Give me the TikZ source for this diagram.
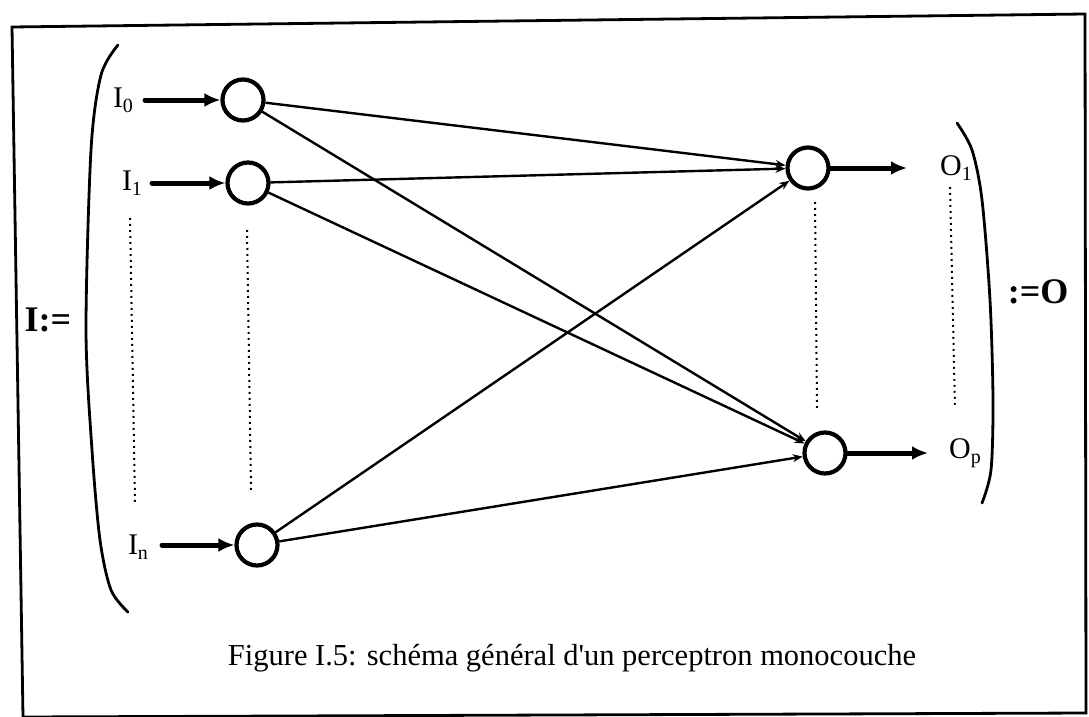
\documentclass[tikz,border=0pt]{standalone}
\usepackage{fontspec}
\setmainfont{Liberation Serif}
\newfontfamily\rawserif{Liberation Serif}
\usetikzlibrary{arrows.meta, positioning}
\tikzset{
  neuron/.style={circle, draw=black, line width=4.2pt,
    minimum size=41pt, inner sep=0pt},
  iolabel/.style={font=\fontsize{30}{32}\selectfont, inner sep=2pt},
  veclabel/.style={font=\fontsize{36}{38}\selectfont\bfseries, inner sep=0pt},
  inarrow/.style={-{Latex[length=16pt,width=14pt]}, line width=5pt, line cap=round},
  link/.style={-{Stealth[length=10pt,width=8pt]}, line width=2.4pt},
  dotline/.style={line width=2pt, dash pattern=on 1.8pt off 4.2pt},
  paren/.style={line width=2.8pt, line cap=round}
}
\newcommand{\idx}[1]{\raisebox{-0.35ex}{\fontsize{20}{20}\selectfont #1}}

\begin{document}
\begin{tikzpicture}[x=1pt, y=-1pt]
  \useasboundingbox (0,0) rectangle (1089,717);

  % Frame
  \draw[line width=2.8pt] (12,27) -- (1085,14) -- (1086,713) -- (23,717) -- cycle;

  % Brackets
  \draw[paren] plot[smooth] coordinates {(118,45) (101,75) (91,150) (86,330) (92,450) (100,540) (111,590) (128,612)};
  \draw[paren] plot[smooth] coordinates {(957,123) (972,150) (982,200) (990,300) (993,400) (991,470) (982,503)};
  \node[veclabel] (vecI) at (48,320) {I:=};
  \node[veclabel] (vecO) at (1038,292) {:=O};

  % Input cells
  \node[neuron] (in0) at (243,100) {};
  \node[neuron] (in1) at (248,183) {};
  \node[neuron] (inN) at (257,545) {};
  \node[iolabel] (lI0) at (123,100) {I\idx{0}};
  \node[iolabel] (lI1) at (132,183) {I\idx{1}};
  \node[iolabel] (lIN) at (138,547) {I\idx{n}};
  \coordinate (s0) at (145,100);
  \coordinate (s1) at (152,183);
  \coordinate (sN) at (162,545);
  \draw[inarrow] (s0) -- (in0);
  \draw[inarrow] (s1) -- (in1);
  \draw[inarrow] (sN) -- (inN);

  % Output cells
  \node[neuron] (out1) at (808,168) {};
  \node[neuron] (outP) at (825,453) {};
  \node[iolabel] (lO1) at (956,168) {O\idx{1}};
  \node[iolabel] (lOP) at (965,453) {O\idx{p}};
  \coordinate (e1) at (907,168);
  \coordinate (eP) at (928,453);
  \draw[inarrow] (out1) -- (e1);
  \draw[inarrow] (outP) -- (eP);

  % Weighted links
  \foreach \src in {in0, in1, inN}
    \foreach \dst in {out1, outP}
      \draw[link] (\src) -- (\dst);

  % Dots between cells
  \draw[dotline] (130,218) -- (135,502);
  \draw[dotline] (247,230) -- (251,490);
  \draw[dotline] (815,202) -- (817,408);
  \draw[dotline] (950,187) -- (955,408);

  % Caption
  \node[font=\fontsize{30.5}{32}\selectfont] (cap) at (572,658)
    {Figure I.5: schéma général d{\rawserif'}un perceptron monocouche};
\end{tikzpicture}
\end{document}
